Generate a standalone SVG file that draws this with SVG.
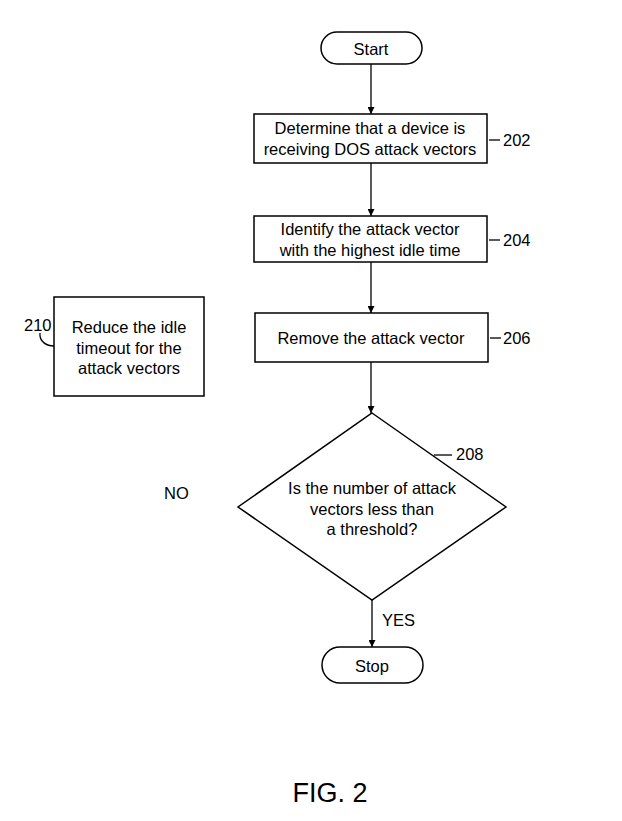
<svg xmlns="http://www.w3.org/2000/svg" width="622" height="821" viewBox="0 0 622 821">
<style>
.s{fill:#fff;stroke:#000;stroke-width:1.5}
.t{font-family:"Liberation Sans",Arial,sans-serif;font-size:16.5px;fill:#000;text-anchor:middle}
.l{font-family:"Liberation Sans",Arial,sans-serif;font-size:16.5px;fill:#000}
.c{fill:none;stroke:#000;stroke-width:1.3}
</style>
<defs>
<marker id="ah" viewBox="0 0 10 10" refX="10" refY="5" markerWidth="7" markerHeight="7" markerUnits="userSpaceOnUse" orient="auto">
<path d="M0,0 L10,5 L0,10 z" fill="#000"/>
</marker>
</defs>
<rect width="622" height="821" fill="#fff"/>
<g id="connectors">
<line class="c" x1="371" y1="64" x2="371" y2="114" marker-end="url(#ah)"/>
<line class="c" x1="371" y1="163" x2="371" y2="216" marker-end="url(#ah)"/>
<line class="c" x1="371" y1="262" x2="371" y2="313" marker-end="url(#ah)"/>
<line class="c" x1="371" y1="362" x2="371" y2="413" marker-end="url(#ah)"/>
<line class="c" x1="372" y1="600" x2="372" y2="647" marker-end="url(#ah)"/>
<text class="l" x="382" y="626">YES</text>
<text class="l" x="164" y="499">NO</text>
</g>
<g id="start">
<rect class="s" x="321" y="32" width="101" height="32" rx="16"/>
<text class="t" x="371" y="55">Start</text>
</g>
<g id="n202">
<rect class="s" x="254" y="114" width="233" height="49"/>
<text class="t" x="370" y="134">Determine that a device is</text>
<text class="t" x="370" y="155">receiving DOS attack vectors</text>
<line class="c" x1="489" y1="140" x2="500" y2="140"/>
<text class="l" x="503" y="146">202</text>
</g>
<g id="n204">
<rect class="s" x="254" y="216" width="233" height="46"/>
<text class="t" x="370" y="235">Identify the attack vector</text>
<text class="t" x="370" y="256">with the highest idle time</text>
<line class="c" x1="489" y1="240" x2="500" y2="240"/>
<text class="l" x="503" y="246">204</text>
</g>
<g id="n206">
<rect class="s" x="255" y="313" width="233" height="49"/>
<text class="t" x="371" y="344">Remove the attack vector</text>
<line class="c" x1="490" y1="338" x2="501" y2="338"/>
<text class="l" x="503" y="344">206</text>
</g>
<g id="n208">
<polygon class="s" points="372,413 506,507 372,600 238,507"/>
<text class="t" x="372" y="494">Is the number of attack</text>
<text class="t" x="372" y="515">vectors less than</text>
<text class="t" x="372" y="535">a threshold?</text>
<line class="c" x1="434" y1="455" x2="452" y2="455"/>
<text class="l" x="456" y="460">208</text>
</g>
<g id="stop">
<rect class="s" x="322" y="647" width="101" height="36" rx="18"/>
<text class="t" x="372" y="672">Stop</text>
</g>
<g id="n210">
<rect class="s" x="54" y="297" width="150" height="99"/>
<text class="t" x="129" y="333">Reduce the idle</text>
<text class="t" x="129" y="354">timeout for the</text>
<text class="t" x="129" y="374">attack vectors</text>
<path class="c" d="M40,333 C39,342 47,346 54,346"/>
<text class="l" x="24" y="331">210</text>
</g>
<text x="330" y="802" font-family="Liberation Sans,Arial,sans-serif" font-size="27" text-anchor="middle">FIG. 2</text>
</svg>
